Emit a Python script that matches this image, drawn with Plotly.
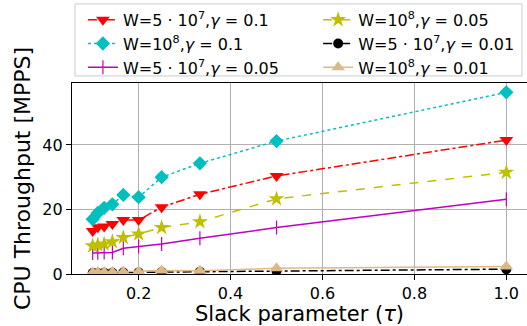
import plotly.graph_objects as go

tau = [0.1, 1/9, 0.125, 1/7, 1/6, 0.2, 0.25, 1/3, 0.5, 1.0]

names = [
    "W=5 · 10<sup>7</sup>,<i>γ</i> = 0.1",
    "W=10<sup>8</sup>,<i>γ</i> = 0.1",
    "W=5 · 10<sup>7</sup>,<i>γ</i> = 0.05",
    "W=10<sup>8</sup>,<i>γ</i> = 0.05",
    "W=5 · 10<sup>7</sup>,<i>γ</i> = 0.01",
    "W=10<sup>8</sup>,<i>γ</i> = 0.01",
]

w5e7_g01 = [13.3, 14.5, 14.7, 15.5, 16.7, 16.7, 20.7, 24.7, 30.4, 41.5]
w1e8_g01 = [17.0, 18.9, 20.5, 21.6, 24.5, 23.8, 30.0, 34.3, 41.2, 56.3]
w5e7_g005 = [6.5, 6.6, 6.7, 6.7, 8.0, 8.5, 9.3, 11.1, 14.4, 23.2]
w1e8_g005 = [8.7, 9.0, 9.3, 10.0, 11.3, 12.4, 14.4, 16.2, 23.3, 31.5]
w5e7_g001 = [0.3, 0.3, 0.35, 0.4, 0.45, 0.5, 0.6, 0.7, 0.9, 1.5]
w1e8_g001 = [0.5, 0.55, 0.6, 0.65, 0.7, 0.8, 1.1, 1.0, 1.8, 2.3]

series = [w5e7_g01, w1e8_g01, w5e7_g005, w1e8_g005, w5e7_g001, w1e8_g001]
colors = ["#ff0000", "#00bfbf", "#bf00bf", "#bfbf00", "#000000", "#deb887"]
dashes = ["dashdot", "dot", "solid", "dash", "dashdot", "solid"]
symbols = ["triangle-down", "diamond", "line-ns", "star", "circle", "triangle-up"]
sizes = [12, 11, 10, 12, 10, 12]
legend_ids = ["legend", "legend", "legend", "legend2", "legend2", "legend2"]

fig = go.Figure()
for name, ys, c, d, s, sz, lg in zip(names, series, colors, dashes, symbols, sizes, legend_ids):
    marker = dict(symbol=s, size=sz, color=c)
    if s == "line-ns":
        marker["line"] = dict(color=c, width=1.2)
    fig.add_trace(go.Scatter(
        x=tau, y=ys, name=name, mode="lines+markers",
        line=dict(color=c, dash=d, width=1.5),
        marker=marker, legend=lg,
    ))

axis_common = dict(
    showline=True, linecolor="black", linewidth=1.2, mirror=True,
    ticks="outside", tickcolor="black", ticklen=5,
    showgrid=True, gridcolor="#b0b0b0", gridwidth=1,
    zeroline=False,
    tickfont=dict(family="DejaVu Sans", size=16, color="black"),
)

legend_common = dict(
    orientation="v", yanchor="top", xanchor="left", y=1.42,
    font=dict(family="DejaVu Sans", size=16),
    bgcolor="rgba(0,0,0,0)", borderwidth=0, tracegroupgap=0,
)

fig.update_layout(
    width=527, height=326,
    margin=dict(l=72, r=0, t=83, b=52),
    plot_bgcolor="white", paper_bgcolor="white",
    font=dict(family="DejaVu Sans", color="black"),
    xaxis=dict(range=[0.055, 1.045], tickvals=[0.2, 0.4, 0.6, 0.8, 1.0],
               ticktext=["0.2", "0.4", "0.6", "0.8", "1.0"],
               title=dict(text="Slack parameter (<i>τ</i>)", font=dict(size=21), standoff=1),
               **axis_common),
    yaxis=dict(range=[0, 59.2], tickvals=[0, 20, 40],
               title=dict(text="CPU Throughput [MPPS]", font=dict(size=22), standoff=5),
               **axis_common),
    legend=dict(x=0.024, **legend_common),
    legend2=dict(x=0.541, **legend_common),
    shapes=[dict(type="rect", xref="paper", yref="paper",
                 x0=0.0066, x1=0.989, y0=1.037, y1=1.414,
                 line=dict(color="#cccccc", width=1), fillcolor="rgba(0,0,0,0)")],
    showlegend=True,
)

fig.write_html("out.html")
